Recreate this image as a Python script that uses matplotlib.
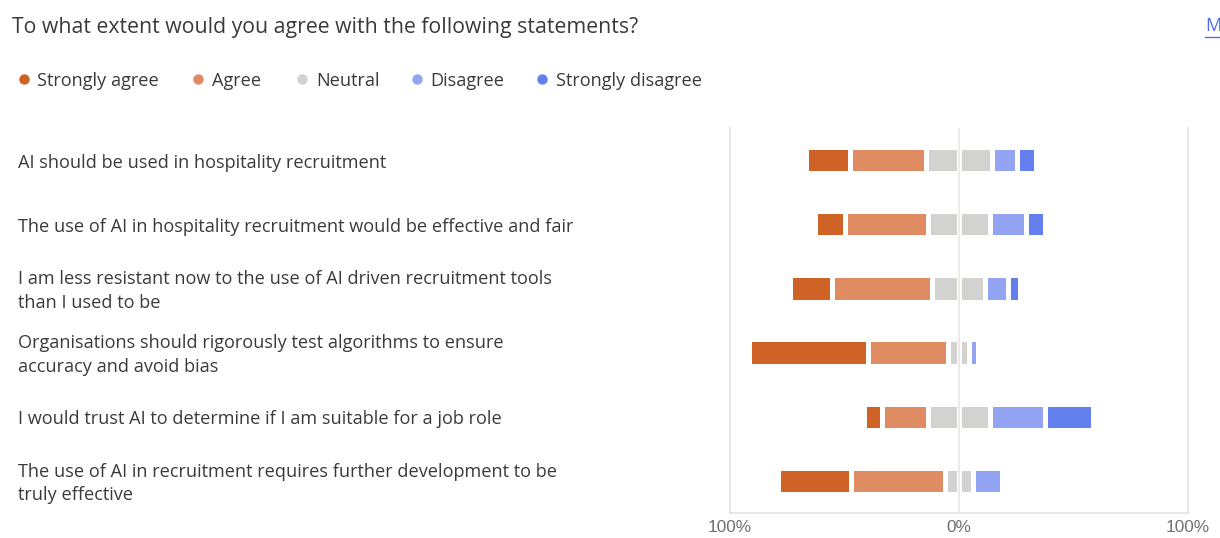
import numpy as np
import matplotlib.pyplot as plt
from matplotlib.lines import Line2D
from matplotlib.transforms import blended_transform_factory

plt.rcParams['font.family'] = ['Open Sans', 'DejaVu Sans']

statements = [
    "AI should be used in hospitality recruitment",
    "The use of AI in hospitality recruitment would be effective and fair",
    "I am less resistant now to the use of AI driven recruitment tools\nthan I used to be",
    "Organisations should rigorously test algorithms to ensure\naccuracy and avoid bias",
    "I would trust AI to determine if I am suitable for a job role",
    "The use of AI in recruitment requires further development to be\ntruly effective",
]
levels = ["Strongly agree", "Agree", "Neutral", "Disagree", "Strongly disagree"]
colors = ["#CF6327", "#E08C62", "#D2D2D0", "#93A4F3", "#6480EF"]

# percent of responses per statement
strongly_agree = [19, 13, 18, 52, 8, 32]
agree = [33, 36, 44, 35, 20, 41]
neutral = [29, 27, 23, 9, 27, 12]
disagree = [11, 16, 10, 4, 24, 13]
strongly_disagree = [8, 8, 5, 0, 21, 2]

W, H, DPI = 1220, 538, 100
fig = plt.figure(figsize=(W / DPI, H / DPI), dpi=DPI)
fig.patch.set_facecolor("white")

ax = fig.add_axes([729.5 / W, 1 - 513 / H, (1188 - 729.5) / W, (513 - 128) / H])

sa = np.array(strongly_agree, float)
a = np.array(agree, float)
n = np.array(neutral, float)
d = np.array(disagree, float)
sd = np.array(strongly_disagree, float)
y = np.arange(len(statements))

# diverging stack: neutral split in half around zero
start = -(sa + a + n / 2)
segs = [(sa, colors[0]), (a, colors[1]), (n / 2, colors[2]), (n / 2, colors[2]),
        (d, colors[3]), (sd, colors[4])]
left = start.copy()
for width, c in segs:
    mask = width > 0
    ax.barh(y[mask], width[mask], left=left[mask], height=0.41, color=c,
            edgecolor="white", linewidth=3.6, zorder=2)
    left = left + width

ax.axvline(0, color="#E6E6E6", lw=1.2, zorder=3)
ax.set_xlim(-100, 100)
ax.set_ylim(len(statements) - 0.5, -0.5)
ax.set_yticks([])
ax.set_xticks([-100, 0, 100])
ax.set_xticklabels(["100%", "0%", "100%"], family="Liberation Sans")
ax.tick_params(axis="x", length=0, pad=5, labelsize=12.4, labelcolor="#707070")
for s in ["left", "right", "bottom"]:
    ax.spines[s].set_color("#E3E3E3")
    ax.spines[s].set_linewidth(1.2)
ax.spines["top"].set_visible(False)

tr = blended_transform_factory(fig.transFigure, ax.transData)
for i, lab in enumerate(statements):
    ax.text(18 / W, i + 0.04, lab, transform=tr, ha="left", va="center", fontsize=13.1,
            color="#3A3A3A", linespacing=1.4)

fig.text(12 / W, 1 - 27 / H, "To what extent would you agree with the following statements?",
         ha="left", va="center", fontsize=15.3, color="#3A3A3A")

mark_x = [24, 198, 302, 417, 542]
text_x = [37, 212, 316, 430, 556]
for mx, tx, lab, c in zip(mark_x, text_x, levels, colors):
    fig.add_artist(Line2D([mx / W], [1 - 79 / H], marker="o", markersize=7.5, color=c,
                          markeredgewidth=0, transform=fig.transFigure))
    fig.text(tx / W, 1 - 81 / H, lab, ha="left", va="center", fontsize=13.1,
             color="#3A3A3A")

fig.text(1205 / W, 1 - 26 / H, "M", ha="left", va="center", fontsize=13.1, color="#4F6BED")
fig.add_artist(Line2D([1205 / W, 1.0], [1 - 37 / H] * 2, color="#4F6BED", lw=1,
                      transform=fig.transFigure))

fig.savefig("out.png", dpi=DPI, facecolor="white")
